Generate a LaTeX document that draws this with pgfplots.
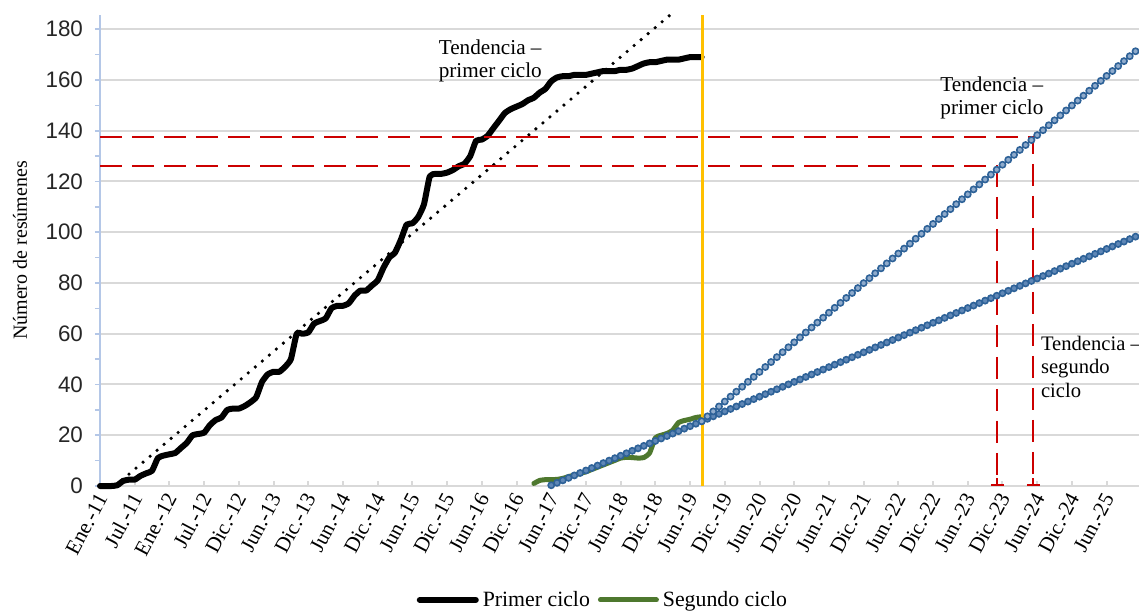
\documentclass[border=0pt]{standalone}
\usepackage{pgfplots}
\pgfplotsset{compat=1.18}
\usepackage{fontspec}
\setmainfont{Liberation Serif}
\newfontfamily\sansf{Liberation Sans}
\definecolor{grn}{RGB}{78,120,46}
\definecolor{bluem}{RGB}{46,98,152}
\definecolor{bluef}{RGB}{95,135,182}
\definecolor{ylw}{RGB}{255,192,0}
\definecolor{redd}{RGB}{204,0,0}
\definecolor{gridc}{RGB}{217,217,217}
\definecolor{axblue}{RGB}{180,199,231}
\begin{document}
\begin{tikzpicture}
\begin{axis}[
 scale only axis, width=519.5pt, height=235.5pt,
 xmin=0, xmax=179.6, ymin=0, ymax=185.6,
 clip=false,
 axis x line*=bottom, axis y line*=left,
 x axis line style={draw=gridc, line width=1pt, -},
 y axis line style={draw=axblue, line width=1pt, -},
 xtick={0,6,...,174},
 xticklabels={Ene.-11,Jul.-11,Ene.-12,Jul.-12,Dic.-12,Jun.-13,Dic.-13,Jun.-14,Dic.-14,Jun.-15,Dic.-15,Jun.-16,Dic.-16,Jun.-17,Dic.-17,Jun.-18,Dic.-18,Jun.-19,Dic.-19,Jun.-20,Dic.-20,Jun.-21,Dic.-21,Jun.-22,Dic.-22,Jun.-23,Dic.-23,Jun.-24,Dic.-24,Jun.-25},
 xtick align=inside,
 xtick style={draw=gridc, line width=1pt},
 xticklabel style={rotate=62, anchor=east, font=\fontsize{10.6}{12}\selectfont, yshift=-3pt},
 ytick={0,20,...,180},
 minor ytick={10,30,...,170},
 ytick align=outside,
 ytick style={draw=axblue, line width=0.8pt},
 major tick length=2.5pt, minor tick length=2.5pt,
 yticklabel style={font=\sansf\fontsize{11.2}{13}\selectfont, /pgf/number format/assume math mode=true, text=black!85, xshift=-2.5pt},
 ymajorgrids, major grid style={draw=gridc, line width=1pt},
 ylabel={Número de resúmenes},
 ylabel style={font=\fontsize{10.8}{12}\selectfont},
 every axis y label/.style={at={(axis description cs:-0.077,0.5)}, rotate=90, anchor=center},
 legend style={at={(axis description cs:0.485,-0.242)}, anchor=center, draw=none, fill=none, inner sep=0pt, font=\fontsize{10.9}{12}\selectfont, /tikz/every even column/.append style={column sep=2pt}},
 legend columns=2,
 legend image code/.code={\draw[#1, line cap=round] (0pt,0pt) -- (28pt,0pt);},
]
% second-cycle trend (monthly)
\addplot[bluem, line width=0.9pt, mark=*, mark size=1.55pt, mark options={fill=bluef, draw=bluem, line width=0.8pt}, forget plot] coordinates {
(78,0.29)(79,1.26)(80,2.23)(81,3.20)(82,4.17)(83,5.14)(84,6.11)(85,7.08)(86,8.05)(87,9.02)(88,9.99)(89,10.96)(90,11.93)(91,12.90)(92,13.87)(93,14.84)(94,15.81)(95,16.78)(96,17.75)(97,18.72)(98,19.69)(99,20.66)(100,21.63)(101,22.60)(102,23.57)(103,24.54)(104,25.51)(105,26.48)(106,27.45)(107,28.42)(108,29.39)(109,30.36)(110,31.33)(111,32.30)(112,33.27)(113,34.24)(114,35.21)(115,36.18)(116,37.15)(117,38.12)(118,39.09)(119,40.06)(120,41.03)(121,42.00)(122,42.97)(123,43.94)(124,44.91)(125,45.88)(126,46.85)(127,47.82)(128,48.79)(129,49.76)(130,50.73)(131,51.70)(132,52.67)(133,53.64)(134,54.61)(135,55.58)(136,56.55)(137,57.52)(138,58.49)(139,59.46)(140,60.43)(141,61.40)(142,62.37)(143,63.34)(144,64.31)(145,65.28)(146,66.25)(147,67.22)(148,68.19)(149,69.16)(150,70.13)(151,71.10)(152,72.07)(153,73.04)(154,74.01)(155,74.98)(156,75.95)(157,76.92)(158,77.89)(159,78.86)(160,79.83)(161,80.80)(162,81.77)(163,82.74)(164,83.71)(165,84.68)(166,85.65)(167,86.62)(168,87.59)(169,88.56)(170,89.53)(171,90.50)(172,91.47)(173,92.44)(174,93.41)(175,94.38)(176,95.35)(177,96.32)(178,97.29)(179,98.26)
};
% first-cycle trend applied after 2019 (monthly)
\addplot[bluem, line width=0.9pt, mark=*, mark size=1.55pt, mark options={fill=bluef!70!white, draw=bluem, line width=0.8pt}, forget plot] coordinates {
(104,25.51)(105,27.45)(106,29.40)(107,31.34)(108,33.29)(109,35.23)(110,37.17)(111,39.12)(112,41.06)(113,43.01)(114,44.95)(115,46.89)(116,48.84)(117,50.78)(118,52.73)(119,54.67)(120,56.61)(121,58.56)(122,60.50)(123,62.45)(124,64.39)(125,66.33)(126,68.28)(127,70.22)(128,72.17)(129,74.11)(130,76.05)(131,78.00)(132,79.94)(133,81.89)(134,83.83)(135,85.77)(136,87.72)(137,89.66)(138,91.61)(139,93.55)(140,95.49)(141,97.44)(142,99.38)(143,101.33)(144,103.27)(145,105.21)(146,107.16)(147,109.10)(148,111.05)(149,112.99)(150,114.93)(151,116.88)(152,118.82)(153,120.77)(154,122.71)(155,124.65)(156,126.60)(157,128.54)(158,130.49)(159,132.43)(160,134.37)(161,136.32)(162,138.26)(163,140.21)(164,142.15)(165,144.09)(166,146.04)(167,147.98)(168,149.93)(169,151.87)(170,153.81)(171,155.76)(172,157.70)(173,159.65)(174,161.59)(175,163.53)(176,165.48)(177,167.42)(178,169.37)(179,171.31)
};
% Primer ciclo
\addplot[black, line width=3pt, smooth, tension=0.3, line join=round, line cap=round] coordinates {
(0,0)(1,0)(2,0)(3,0.3)(4,2)(5,2.5)(6,2.5)(7,4)(8,5)(9,6)(10,11)(11,12)(12,12.5)(13,13)(14,15)(15,17)(16,20)(17,20.5)(18,21)(19,24)(20,26)(21,27)(22,30)(23,30.5)(24,30.5)(25,31.5)(26,33)(27,35)(28,41)(29,44)(30,45)(31,45)(32,47)(33,50)(34,60)(35,60)(36,60.5)(37,64)(38,65)(39,66)(40,70)(41,71)(42,71)(43,72)(44,75)(45,77)(46,77)(47,79)(48,81)(49,86)(50,90)(51,92)(52,97)(53,103)(54,103.5)(55,106)(56,111)(57,122)(58,123)(59,123)(60,123.5)(61,124.5)(62,126)(63,127)(64,130)(65,136)(66,136.5)(67,138)(68,141)(69,144)(70,147)(71,148.5)(72,149.5)(73,150.5)(74,152)(75,153)(76,155)(77,156.5)(78,159.5)(79,161)(80,161.5)(81,161.5)(82,162)(83,162)(84,162)(85,162.5)(86,163)(87,163.5)(88,163.5)(89,163.5)(90,164)(91,164)(92,164.5)(93,165.5)(94,166.5)(95,167)(96,167)(97,167.5)(98,168)(99,168)(100,168)(101,168.5)(102,169)(103,169)(104,169)
};
\addlegendentry{Primer ciclo}
% Segundo ciclo
\addplot[grn, line width=2.5pt, smooth, tension=0.3, line join=round, line cap=round] coordinates {
(75,1)(76,2.2)(77,2.5)(78,2.5)(79,2.6)(80,3)(81,3.7)(82,4.3)(83,5)(84,5.6)(85,6.5)(86,7.4)(87,8.3)(88,9.2)(89,10.1)(90,11)(91,11.3)(92,11.2)(93,11)(94,11.2)(95,13)(96,19)(97,20)(98,20.7)(99,22)(100,25)(101,25.8)(102,26.3)(103,27)(104,27.3)
};
\addlegendentry{Segundo ciclo}
% linear trend of first cycle
\addplot[black, line width=1.8pt, line cap=round, dash pattern=on 0pt off 4.6pt, forget plot] coordinates {(2.59,0)(98.55,185.6)};
% red reference lines
\addplot[redd, line width=1pt, dash pattern=on 11pt off 5pt, forget plot] coordinates {(0,137.5)(161.3,137.5)(161.3,0)};
\addplot[redd, line width=1pt, dash pattern=on 11pt off 5pt, forget plot] coordinates {(0,126)(155.1,126)(155.1,0)};
\addplot[redd, line width=1pt, forget plot] coordinates {(154.0,0.3)(156.2,0.3)};
\addplot[redd, line width=1pt, forget plot] coordinates {(160.2,0.3)(162.4,0.3)};
\addplot[redd, line width=1pt, forget plot] coordinates {(155.1,0)(155.1,3)};
\addplot[redd, line width=1pt, forget plot] coordinates {(161.3,0)(161.3,3)};
% yellow cut line
\addplot[ylw, line width=1.7pt, forget plot] coordinates {(104.1,0)(104.1,185.6)};
% annotations
\node[anchor=west, align=left, inner sep=0pt, font=\fontsize{10.6}{11.5}\selectfont] at (axis cs:58.5,167.5) {Tendencia –\\primer ciclo};
\node[anchor=west, align=left, inner sep=0pt, font=\fontsize{10.6}{11.5}\selectfont] at (axis cs:145.2,153.0) {Tendencia –\\primer ciclo};
\node[anchor=west, align=left, inner sep=0pt, font=\fontsize{10.3}{11.7}\selectfont] at (axis cs:162.6,47.0) {Tendencia –\\segundo\\ciclo};
\end{axis}
\pgfresetboundingbox
\path[use as bounding box] (-50pt,-62pt) rectangle (519.5pt,243pt);
\end{tikzpicture}
\end{document}
